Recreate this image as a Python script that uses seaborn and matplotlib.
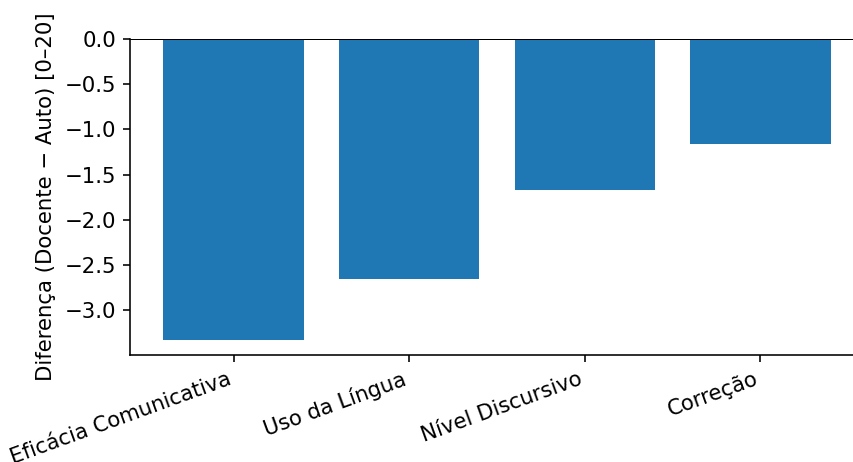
import matplotlib
matplotlib.use('Agg')
import matplotlib.pyplot as plt
from matplotlib.ticker import MultipleLocator
import seaborn as sns
import pandas as pd

# differences teacher - self assessment, per criterion
criterios = ['Eficácia Comunicativa', 'Uso da Língua', 'Nível Discursivo', 'Correção']
diferencas = [-3.33, -2.66, -1.67, -1.165]

data = pd.DataFrame({'criterio': criterios, 'diferenca': diferencas})

plt.rcParams['font.family'] = ['DejaVu Sans']
plt.rcParams['font.size'] = 10.6

fig = plt.figure(figsize=(853 / 144, 462 / 144), dpi=144)
ax = fig.add_axes([130 / 853, 107 / 462, 734 / 853, 316 / 462])

sns.barplot(data=data, x='criterio', y='diferenca', color='#1f77b4',
            saturation=1, width=0.8, ax=ax)

ax.axhline(0, color='black', linewidth=1.0)
ax.set_xlim(-0.59, 3.59)
ax.set_ylim(min(diferencas) * 1.05, 0)
ax.yaxis.set_major_locator(MultipleLocator(0.5))
ax.set_xlabel('')
ax.set_ylabel('Diferença (Docente − Auto) [0–20]')
plt.setp(ax.get_xticklabels(), rotation=20, ha='right')
ax.spines['top'].set_visible(False)
ax.spines['right'].set_visible(False)

fig.savefig('out.png', dpi=144)
